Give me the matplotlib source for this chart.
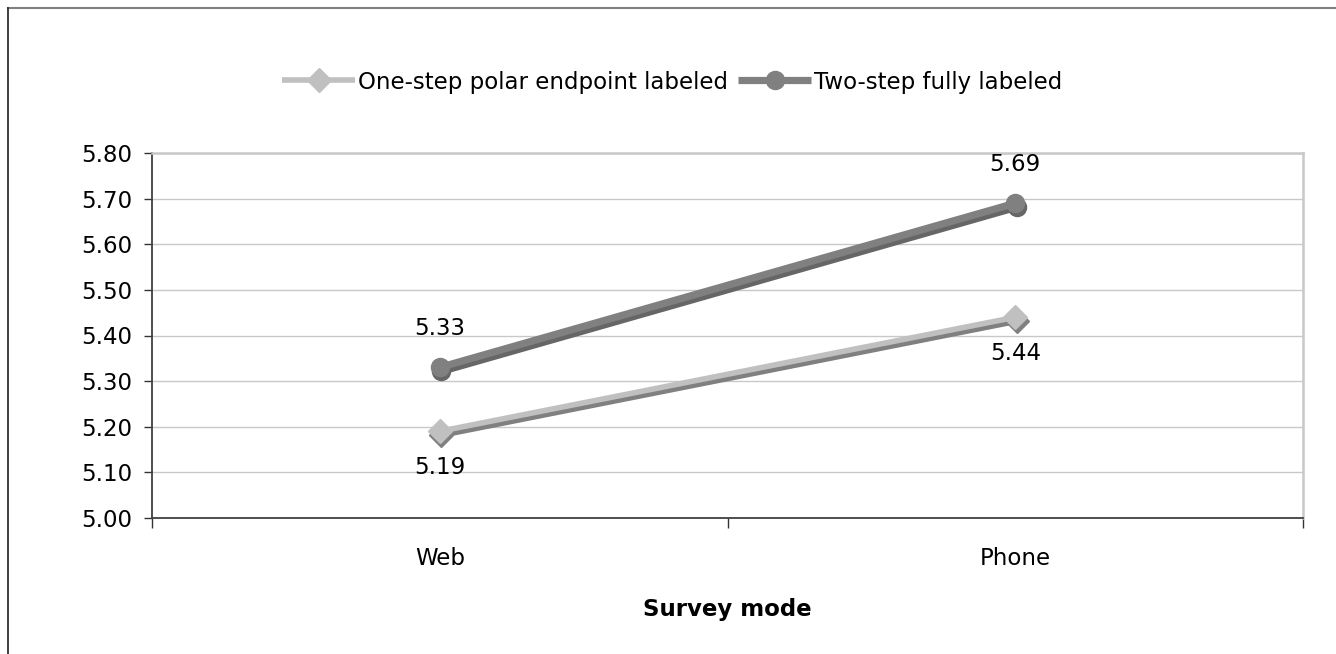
import matplotlib
matplotlib.use("Agg")
import matplotlib.pyplot as plt
from matplotlib.lines import Line2D
from matplotlib.transforms import ScaledTranslation

categories = ["Web", "Phone"]
series_names = ["One-step polar endpoint labeled", "Two-step fully labeled"]
one_step = [5.19, 5.44]
two_step = [5.33, 5.69]
y_ticks = [5.00, 5.10, 5.20, 5.30, 5.40, 5.50, 5.60, 5.70, 5.80]
x_label = "Survey mode"

plt.rcParams['font.family'] = ['DejaVu Sans']
FS = 16.5

fig = plt.figure(figsize=(13.36, 6.54), dpi=100)
W, H = 1336, 654
ax = fig.add_axes([152 / W, 1 - 518 / H, (1303 - 152) / W, (518 - 153) / H])

x = list(range(len(categories)))

c1, s1 = "#c0c0c0", "#808080"
c2, s2 = "#808080", "#666666"

shadow = ax.transData + ScaledTranslation(1.5 / 100, -4 / 100, fig.dpi_scale_trans)
ax.plot(x, one_step, color=s1, lw=4.0, marker="D", ms=12, mfc=s1, mec=s1,
        transform=shadow, zorder=3, solid_capstyle="butt")
ax.plot(x, two_step, color=s2, lw=5.2, marker="o", ms=13, mfc=s2, mec=s2,
        transform=shadow, zorder=3, solid_capstyle="butt")
l1, = ax.plot(x, one_step, color=c1, lw=4.0, marker="D", ms=12, mfc=c1, mec=c1,
              zorder=4, label=series_names[0], solid_capstyle="butt")
l2, = ax.plot(x, two_step, color=c2, lw=5.2, marker="o", ms=13, mfc=c2, mec=c2,
              zorder=5, label=series_names[1], solid_capstyle="butt")

for xi, v in zip(x, one_step):
    ax.annotate(f"{v:.2f}", (xi, v), xytext=(0, -26), textcoords="offset points",
                ha="center", va="center", fontsize=FS, color="black")
for xi, v in zip(x, two_step):
    ax.annotate(f"{v:.2f}", (xi, v), xytext=(0, 28), textcoords="offset points",
                ha="center", va="center", fontsize=FS, color="black")

ax.set_xlim(-0.5, len(categories) - 0.5)
ax.set_ylim(y_ticks[0], y_ticks[-1])
ax.set_yticks(y_ticks)
ax.set_yticklabels([f"{t:.2f}" for t in y_ticks], fontsize=FS)
ax.set_xticks(x)
ax.set_xticklabels(categories, fontsize=FS)
ax.set_xticks([i - 0.5 for i in range(len(categories) + 1)], minor=True)
ax.tick_params(axis="x", which="major", length=0, pad=21)
ax.tick_params(axis="x", which="minor", length=7, width=1, color="#333333")
ax.tick_params(axis="y", length=6, width=1, color="#333333", pad=8)
ax.yaxis.grid(True, color="#c8c8c8", lw=1)
ax.set_axisbelow(True)
for side in ["left", "bottom"]:
    ax.spines[side].set_color("#404040")
    ax.spines[side].set_linewidth(1.3)
for side in ["top", "right"]:
    ax.spines[side].set_color("#c8c8c8")
    ax.spines[side].set_linewidth(1.8)

ax.set_xlabel(x_label, fontsize=FS, fontweight="bold", labelpad=20)

fig.legend(handles=[l1, l2], loc="center", bbox_to_anchor=(672 / W, 1 - 82 / H),
           ncol=2, frameon=False, fontsize=FS, handlelength=3.2,
           handletextpad=0.1, columnspacing=0.45)

fig.add_artist(Line2D([8 / W, 1.0], [1 - 7.5 / H, 1 - 7.5 / H],
                      transform=fig.transFigure, color="#808080", lw=1.5))
fig.add_artist(Line2D([8 / W, 8 / W], [0.0, 1 - 7.5 / H],
                      transform=fig.transFigure, color="#303030", lw=1.3))

fig.savefig("out.png", dpi=100)
